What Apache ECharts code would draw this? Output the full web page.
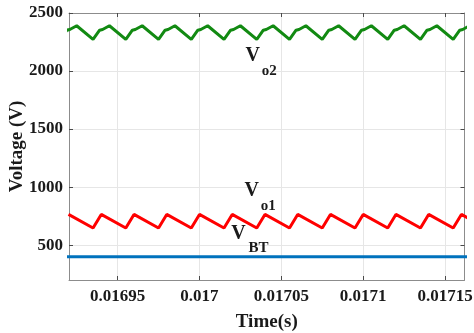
<!DOCTYPE html>
<html>
<head>
<meta charset="utf-8">
<script src="https://cdn.jsdelivr.net/npm/echarts@6/dist/echarts.min.js"></script>
<style>
  html, body { margin: 0; padding: 0; background: #ffffff; }
  #chart { width: 474px; height: 333px; }
</style>
</head>
<body>
<div id="chart"></div>
<script>
// Axis ticks
const timeTicks = [0.01695, 0.017, 0.01705, 0.0171, 0.01715];
const timeTickLabels = ['0.01695', '0.017', '0.01705', '0.0171', '0.01715'];
const voltTicks = [500, 1000, 1500, 2000, 2500];
const voltTickLabels = ['500', '1000', '1500', '2000', '2500'];

// V_o2: output voltage 2 (trough, knee, knee end, peak per switching period)
const vo2Time = [
  0.016915, 0.016919, 0.0169208, 0.016925,
  0.016935, 0.016939, 0.0169408, 0.016945,
  0.016955, 0.016959, 0.0169608, 0.016965,
  0.016975, 0.016979, 0.0169808, 0.016985,
  0.016995, 0.016999, 0.0170008, 0.017005,
  0.017015, 0.017019, 0.0170208, 0.017025,
  0.017035, 0.017039, 0.0170408, 0.017045,
  0.017055, 0.017059, 0.0170608, 0.017065,
  0.017075, 0.017079, 0.0170808, 0.017085,
  0.017095, 0.017099, 0.0171008, 0.017105,
  0.017115, 0.017119, 0.0171208, 0.017125,
  0.017135, 0.017139, 0.0171408, 0.017145,
  0.017155, 0.017159, 0.0171608, 0.017165
];
const vo2Volt = [
  2273, 2352, 2358, 2390,
  2273, 2352, 2358, 2390,
  2273, 2352, 2358, 2390,
  2273, 2352, 2358, 2390,
  2273, 2352, 2358, 2390,
  2273, 2352, 2358, 2390,
  2273, 2352, 2358, 2390,
  2273, 2352, 2358, 2390,
  2273, 2352, 2358, 2390,
  2273, 2352, 2358, 2390,
  2273, 2352, 2358, 2390,
  2273, 2352, 2358, 2390,
  2273, 2352, 2358, 2390
];

// V_o1: output voltage 1 (peak / trough)
const vo1Time = [
  0.01692, 0.016935, 0.01694, 0.016955, 0.01696, 0.016975, 0.01698, 0.016995,
  0.017, 0.017015, 0.01702, 0.017035, 0.01704, 0.017055, 0.01706, 0.017075,
  0.01708, 0.017095, 0.0171, 0.017115, 0.01712, 0.017135, 0.01714, 0.017155,
  0.01716, 0.017175
];
const vo1Volt = [
  765, 648, 765, 648, 765, 648, 765, 648,
  765, 648, 765, 648, 765, 648, 765, 648,
  765, 648, 765, 648, 765, 648, 765, 648,
  765, 648
];

// V_BT: battery voltage
const vbtTime = [0.0169, 0.0172];
const vbtVolt = [400, 400];

// Trace names drawn inside the plot
const traceNames = [
  { main: 'V', sub: 'o2', t: 0.0170325, v: 2130, subDx: 16.5, subDy: 15 },
  { main: 'V', sub: 'o1', t: 0.0170319, v: 970, subDx: 16.5, subDy: 15.5 },
  { main: 'V', sub: 'BT', t: 0.0170239, v: 594, subDx: 20, subDy: 14 }
];

const serif = "'Liberation Serif', 'Times New Roman', serif";
const boxColor = '#8c8c8c';
const tickColor = '#4a4a4a';
const textColor = '#1a1a1a';
const tMin = 0.0169203, tMax = 0.0171619;

function zip(xs, ys) { return xs.map((x, i) => [x, ys[i]]); }
function pick(ticks, labels) {
  return (val) => {
    const i = ticks.findIndex(x => Math.abs(x - val) < 1e-9);
    return i >= 0 ? labels[i] : '';
  };
}

const nameMarks = [];
traceNames.forEach(n => {
  nameMarks.push({
    coord: [n.t, n.v], symbolSize: 0,
    label: { show: true, formatter: n.main, fontFamily: serif, fontWeight: 'bold', fontSize: 20, color: textColor }
  });
  nameMarks.push({
    coord: [n.t, n.v], symbolSize: 0,
    label: { show: true, formatter: n.sub, offset: [n.subDx, n.subDy], fontFamily: serif, fontWeight: 'bold', fontSize: 15, color: textColor }
  });
});

const chart = echarts.init(document.getElementById('chart'), null, { renderer: 'canvas' });
chart.setOption({
  animation: false,
  backgroundColor: '#ffffff',
  grid: { left: 69, right: 9.5, top: 13, bottom: 53, containLabel: false, outerBoundsMode: 'none' },
  xAxis: [
    {
      type: 'value', position: 'bottom', min: tMin, max: tMax,
      name: 'Time(s)', nameLocation: 'middle', nameGap: 33, nameMoveOverlap: false,
      nameTextStyle: { fontFamily: serif, fontWeight: 'bold', fontSize: 19, color: textColor },
      axisLine: { show: true, onZero: false, lineStyle: { color: boxColor, width: 1 } },
      axisTick: { show: true, inside: true, length: 4, customValues: timeTicks, lineStyle: { color: tickColor } },
      axisLabel: { customValues: timeTicks, formatter: pick(timeTicks, timeTickLabels), fontFamily: serif, fontWeight: 'bold', fontSize: 17, color: textColor, margin: 8 },
      splitLine: { show: true, lineStyle: { color: '#e6e6e6', width: 1 } }
    },
    {
      type: 'value', position: 'top', min: tMin, max: tMax,
      axisLine: { show: true, onZero: false, lineStyle: { color: boxColor, width: 1 } },
      axisTick: { show: true, inside: true, length: 4, customValues: timeTicks, lineStyle: { color: tickColor } },
      axisLabel: { show: false },
      splitLine: { show: false }
    }
  ],
  yAxis: [
    {
      type: 'value', position: 'left', min: 200, max: 2500,
      name: 'Voltage (V)', nameLocation: 'middle', nameGap: 42, nameMoveOverlap: false,
      nameTextStyle: { fontFamily: serif, fontWeight: 'bold', fontSize: 19, color: textColor },
      axisLine: { show: true, onZero: false, lineStyle: { color: boxColor, width: 1 } },
      axisTick: { show: true, inside: true, length: 4, customValues: voltTicks, lineStyle: { color: tickColor } },
      axisLabel: { customValues: voltTicks, formatter: pick(voltTicks, voltTickLabels), fontFamily: serif, fontWeight: 'bold', fontSize: 17, color: textColor, margin: 6 },
      splitLine: { show: true, lineStyle: { color: '#e6e6e6', width: 1 } }
    },
    {
      type: 'value', position: 'right', min: 200, max: 2500,
      axisLine: { show: true, onZero: false, lineStyle: { color: boxColor, width: 1 } },
      axisTick: { show: true, inside: true, length: 4, customValues: voltTicks, lineStyle: { color: tickColor } },
      axisLabel: { show: false },
      splitLine: { show: false }
    }
  ],
  series: [
    {
      name: 'Vo2', type: 'line', xAxisIndex: 0, yAxisIndex: 0,
      data: zip(vo2Time, vo2Volt), showSymbol: false, clip: true,
      lineStyle: { color: '#128a12', width: 3 }
    },
    {
      name: 'Vo1', type: 'line', xAxisIndex: 0, yAxisIndex: 0,
      data: zip(vo1Time, vo1Volt), showSymbol: false, clip: true,
      lineStyle: { color: '#ff0000', width: 3 }
    },
    {
      name: 'VBT', type: 'line', xAxisIndex: 0, yAxisIndex: 0,
      data: zip(vbtTime, vbtVolt), showSymbol: false, clip: true,
      lineStyle: { color: '#0072bd', width: 3 },
      markPoint: {
        silent: true, symbol: 'circle', symbolSize: 0,
        itemStyle: { color: 'rgba(0,0,0,0)' },
        data: nameMarks
      }
    }
  ]
});
</script>
</body>
</html>
